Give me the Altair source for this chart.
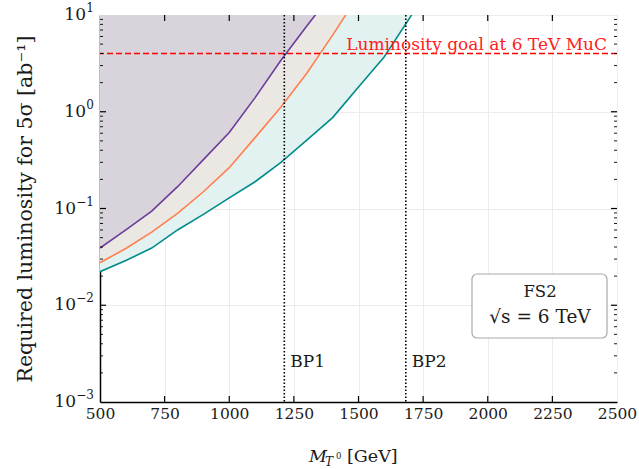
import altair as alt
import pandas as pd

# ---- data ----
masses = [500, 600, 700, 800, 900, 1000, 1100, 1200, 1300, 1400, 1500, 1600, 1700, 1800]
lumi_purple = [0.039, 0.060, 0.094, 0.168, 0.32, 0.61, 1.40, 3.4, 7.7, 17.0]
lumi_orange = [0.0275, 0.0386, 0.057, 0.089, 0.149, 0.264, 0.54, 1.12, 2.5, 6.2, 16.0]
lumi_teal = [0.0222, 0.029, 0.039, 0.060, 0.087, 0.129, 0.189, 0.30, 0.51, 0.87, 1.8, 3.7, 9.5, 25.0]

lumi_goal = 4.0
bp_names = ["BP1", "BP2"]
bp_masses = [1213, 1683]

x_ticks = [500, 750, 1000, 1250, 1500, 1750, 2000, 2250, 2500]
y_ticks = [0.001, 0.01, 0.1, 1, 10]
y_exponents = ["−3", "−2", "−1", "0", "1"]
y_minor = [m * 10.0 ** e for e in (-3, -2, -1, 0) for m in range(2, 10)]

FONT = "DejaVu Serif"
TXT = "#1a1a1a"
W, H = 517, 387

def series(vals, name):
    return pd.DataFrame({"M": masses[: len(vals)], "L": vals, "s": name})

df_p = series(lumi_purple, "p")
df_o = series(lumi_orange, "o")
df_t = series(lumi_teal, "t")

xs = alt.Scale(domain=[500, 2500], nice=False, zero=False)
ys = alt.Scale(type="log", domain=[0.001, 10], nice=False)

X = alt.X("M:Q", scale=xs,
          axis=alt.Axis(values=x_ticks, title=None, grid=True, gridColor="#ececec",
                        ticks=False, labelFont=FONT, labelFontSize=15.5, labelColor=TXT,
                        labelPadding=4, labelFlush=False, domainColor="black", domainWidth=1.5,
                        format="d"))
Y = alt.Y("L:Q", scale=ys,
          axis=alt.Axis(values=y_ticks, labels=False, grid=True, gridColor="#ececec",
                        ticks=False, labelFont=FONT, labelFontSize=17,
                        title="Required luminosity for 5σ [ab⁻¹]", titleFont=FONT,
                        titleFontSize=20.5, titleFontWeight="normal", titleColor=TXT,
                        titlePadding=65, domainColor="black", domainWidth=1.5))

def area(df, color):
    return alt.Chart(df).mark_area(color=color, opacity=1, clip=True).encode(
        x=X, y=Y, y2=alt.datum(10))

def line(df, color):
    return alt.Chart(df).mark_line(color=color, strokeWidth=1.6, clip=True).encode(x=X, y=Y)

a_t = area(df_t, "#e2f2f1")
a_o = area(df_o, "#ebe8e3")
a_p = area(df_p, "#d9d3dc")
l_t = line(df_t, "#008b8b")
l_o = line(df_o, "#ff7f50")
l_p = line(df_p, "#6a3d9a")

goal_df = pd.DataFrame({"L": [lumi_goal]})
goal = alt.Chart(goal_df).mark_rule(color="#ff0000", strokeWidth=1.7, strokeDash=[6, 3]).encode(y=alt.Y("L:Q", scale=ys))
goal_txt = alt.Chart(goal_df).mark_text(text="Luminosity goal at 6 TeV MuC", color="#ff2020",
                                        font=FONT, fontSize=17, align="right", baseline="alphabetic", dy=-4).encode(
    y=alt.Y("L:Q", scale=ys), x=alt.value(W - 10))

bp_df = pd.DataFrame({"M": bp_masses, "name": bp_names})
bp_lines = alt.Chart(bp_df).mark_rule(color="black", strokeWidth=1.6, strokeDash=[1.5, 2]).encode(
    x=alt.X("M:Q", scale=xs))
bp_txt = alt.Chart(bp_df).mark_text(font=FONT, fontSize=17, align="left", baseline="middle", dx=6,
                                    color=TXT).encode(
    x=alt.X("M:Q", scale=xs), y=alt.value(347), text="name:N")

# y tick labels: "10" with a raised exponent
ylab_df = pd.DataFrame({"L": y_ticks, "e": y_exponents})
ylab_df["neg"] = ylab_df["e"].str.startswith("−")
ylab_exp = alt.Chart(ylab_df).mark_text(font=FONT, fontSize=12, color=TXT, align="right",
                                        baseline="alphabetic", dy=-3).encode(
    y=alt.Y("L:Q", scale=ys), x=alt.value(-6), text="e:N")
ylab_10_neg = alt.Chart(ylab_df).transform_filter("datum.neg").mark_text(
    text="10", font=FONT, fontSize=17, color=TXT, align="right", baseline="middle").encode(
    y=alt.Y("L:Q", scale=ys), x=alt.value(-24))
ylab_10_pos = alt.Chart(ylab_df).transform_filter("!datum.neg").mark_text(
    text="10", font=FONT, fontSize=17, color=TXT, align="right", baseline="middle").encode(
    y=alt.Y("L:Q", scale=ys), x=alt.value(-14))

# inward ticks
xt_df = pd.DataFrame({"M": x_ticks[1:-1]})
xt_bot = alt.Chart(xt_df).mark_rule(color="black", strokeWidth=1.2).encode(
    x=alt.X("M:Q", scale=xs), y=alt.value(H), y2=alt.value(H - 6))
xt_top = alt.Chart(xt_df).mark_rule(color="black", strokeWidth=1.2).encode(
    x=alt.X("M:Q", scale=xs), y=alt.value(0), y2=alt.value(6))
ymaj_df = pd.DataFrame({"L": y_ticks[1:-1]})
ymin_df = pd.DataFrame({"L": y_minor})
yt_l = alt.Chart(ymaj_df).mark_rule(color="black", strokeWidth=1.2).encode(
    y=alt.Y("L:Q", scale=ys), x=alt.value(0), x2=alt.value(6))
yt_r = alt.Chart(ymaj_df).mark_rule(color="black", strokeWidth=1.2).encode(
    y=alt.Y("L:Q", scale=ys), x=alt.value(W), x2=alt.value(W - 6))
ym_l = alt.Chart(ymin_df).mark_rule(color="black", strokeWidth=0.9).encode(
    y=alt.Y("L:Q", scale=ys), x=alt.value(0), x2=alt.value(3))
ym_r = alt.Chart(ymin_df).mark_rule(color="black", strokeWidth=0.9).encode(
    y=alt.Y("L:Q", scale=ys), x=alt.value(W), x2=alt.value(W - 3))

# info box
box = alt.Chart(goal_df).mark_rect(fill="white", stroke="#aaaaaa", strokeWidth=1.2, cornerRadius=5).encode(
    x=alt.value(372), x2=alt.value(507), y=alt.value(259), y2=alt.value(323))
box_t1 = alt.Chart(goal_df).mark_text(text="FS2", font=FONT, fontSize=16.5, color=TXT, align="center",
                                      baseline="middle").encode(x=alt.value(440), y=alt.value(277))
box_t2 = alt.Chart(goal_df).mark_text(text="√s = 6 TeV", font=FONT, fontSize=18.5, color=TXT, align="center",
                                      baseline="middle").encode(x=alt.value(440), y=alt.value(302))

# x-axis title assembled from pieces (M, subscript T, superscript 0, [GeV])
xt_M = alt.Chart(goal_df).mark_text(text="M", font=FONT, fontSize=17.5, fontStyle="italic", color=TXT,
                                    align="left", baseline="alphabetic").encode(x=alt.value(209), y=alt.value(447))
xt_T = alt.Chart(goal_df).mark_text(text="T", font=FONT, fontSize=12, fontStyle="italic", color=TXT,
                                    align="left", baseline="alphabetic").encode(x=alt.value(225), y=alt.value(451))
xt_0 = alt.Chart(goal_df).mark_text(text="0", font=FONT, fontSize=8.5, color=TXT,
                                    align="left", baseline="alphabetic").encode(x=alt.value(236), y=alt.value(444))
xt_G = alt.Chart(goal_df).mark_text(text="[GeV]", font=FONT, fontSize=17.5, color=TXT,
                                    align="left", baseline="alphabetic").encode(x=alt.value(247), y=alt.value(447))

chart = alt.layer(
    a_t, a_o, a_p, l_t, l_o, l_p, goal, goal_txt, bp_lines, bp_txt,
    xt_bot, xt_top, yt_l, yt_r, ym_l, ym_r, box, box_t1, box_t2,
    ylab_exp, ylab_10_neg, ylab_10_pos,
    xt_M, xt_T, xt_0, xt_G,
).properties(
    width=W, height=H,
    padding={"left": 100, "top": 15, "right": 22, "bottom": 67},
    autosize=alt.AutoSizeParams(type="none"),
).configure_view(stroke="black", strokeWidth=1.5).configure(background="white")

chart.save("out.html", embed_options={"renderer": "svg", "actions": False})
